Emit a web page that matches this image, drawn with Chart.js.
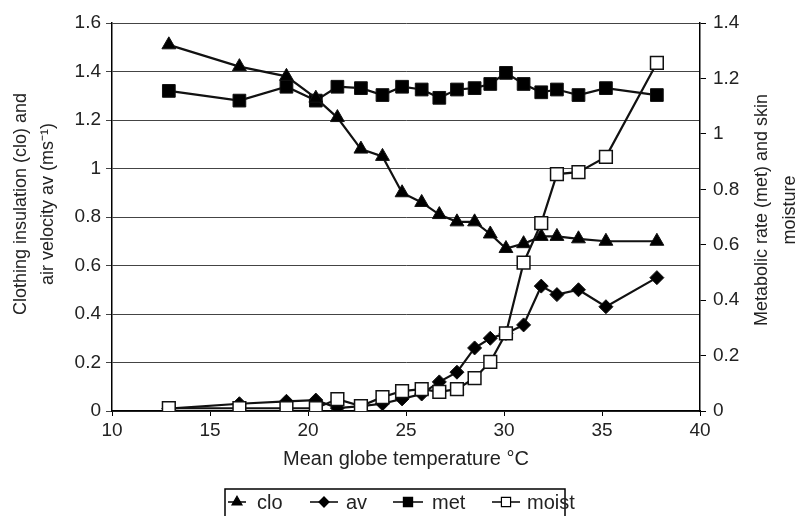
<!DOCTYPE html>
<html>
<head>
<meta charset="utf-8">
<script src="https://cdn.jsdelivr.net/npm/chart.js@4/dist/chart.umd.min.js"></script>
<style>
  html, body { margin: 0; padding: 0; background: #fff; }
  #wrap { width: 799px; height: 516px; position: relative; }
</style>
</head>
<body>
<div id="wrap"><canvas id="canvas"></canvas></div>
<script>
// mean globe temperature (°C)
var temps = [12.9, 16.5, 18.9, 20.4, 21.5, 22.7, 23.8, 24.8, 25.8, 26.7, 27.6, 28.5, 29.3, 30.1, 31.0, 31.9, 32.7, 33.8, 35.2, 37.8];
// left axis
var cloValues = [1.51, 1.42, 1.38, 1.29, 1.21, 1.08, 1.05, 0.90, 0.86, 0.81, 0.78, 0.78, 0.73, 0.67, 0.69, 0.72, 0.72, 0.71, 0.70, 0.70];
var avValues = [0.01, 0.03, 0.04, 0.045, 0.012, 0.02, 0.03, 0.05, 0.07, 0.12, 0.16, 0.26, 0.30, 0.32, 0.355, 0.515, 0.48, 0.50, 0.43, 0.55];
// right axis
var metValues = [1.155, 1.12, 1.17, 1.12, 1.17, 1.165, 1.14, 1.17, 1.16, 1.13, 1.16, 1.165, 1.18, 1.22, 1.18, 1.15, 1.16, 1.14, 1.165, 1.14];
var moistValues = [0.01, 0.01, 0.01, 0.01, 0.043, 0.018, 0.05, 0.072, 0.079, 0.069, 0.079, 0.119, 0.177, 0.28, 0.535, 0.678, 0.855, 0.862, 0.917, 1.256];

var xTicks = [10, 15, 20, 25, 30, 35, 40];
var leftTicks = [0, 0.2, 0.4, 0.6, 0.8, 1, 1.2, 1.4, 1.6];
var rightTicks = [0, 0.2, 0.4, 0.6, 0.8, 1, 1.2, 1.4];

var FONT = "'Liberation Sans', Arial, sans-serif";
var TEXT = "#222";

function pairs(ys) {
    return temps.map(function (t, i) { return { x: t, y: ys[i] }; });
}

var seriesStyle = [
    { label: "clo", style: "triangle", fill: "#000", radius: 8 },
    { label: "av", style: "rectRot", fill: "#000", radius: 7 },
    { label: "met", style: "rect", fill: "#000", radius: 9 },
    { label: "moist", style: "rect", fill: "#fff", radius: 9 }
];

// legend below the chart, lines drawn through the markers
var legendBox = {
    id: "legendBox",
    afterDraw: function (chart) {
        var ctx = chart.ctx;
        ctx.save();
        ctx.strokeStyle = "#000";
        ctx.lineWidth = 1.5;
        ctx.strokeRect(225, 489, 340, 40);
        var items = [
            { x0: 228, x1: 246, tx: 257 },
            { x0: 310, x1: 338, tx: 346 },
            { x0: 393, x1: 423, tx: 432 },
            { x0: 492, x1: 520, tx: 527 }
        ];
        var y = 502;
        items.forEach(function (it, i) {
            var s = seriesStyle[i];
            ctx.beginPath();
            ctx.strokeStyle = "#000";
            ctx.lineWidth = 1.5;
            ctx.moveTo(it.x0, y);
            ctx.lineTo(it.x1, y);
            ctx.stroke();
            ctx.fillStyle = s.fill;
            ctx.strokeStyle = "#000";
            ctx.lineWidth = 1.2;
            Chart.helpers.drawPoint(ctx, { pointStyle: s.style, radius: s.radius * 0.72, borderWidth: 1.2 }, (it.x0 + it.x1) / 2, y);
            ctx.fillStyle = TEXT;
            ctx.font = "20px " + FONT;
            ctx.textBaseline = "middle";
            ctx.textAlign = "left";
            ctx.fillText(s.label, it.tx, y + 1);
        });
        ctx.restore();
    }
};

// both y titles; the right one reads bottom to top like the left one
var axisTitles = {
    id: "axisTitles",
    afterDraw: function (chart) {
        var ctx = chart.ctx;
        ctx.save();
        ctx.fillStyle = TEXT;
        ctx.font = "18px " + FONT;
        ctx.textAlign = "center";
        ctx.textBaseline = "middle";
        ctx.translate(21, 204);
        ctx.rotate(-Math.PI / 2);
        ctx.fillText("Clothing insulation (clo) and", 0, 0);
        ctx.fillText("air velocity av (ms⁻¹)", 0, 27);
        ctx.restore();

        ctx.save();
        ctx.fillStyle = TEXT;
        ctx.font = "18px " + FONT;
        ctx.textAlign = "center";
        ctx.textBaseline = "middle";
        ctx.translate(762, 210);
        ctx.rotate(-Math.PI / 2);
        ctx.fillText("Metabolic rate (met) and skin", 0, 0);
        ctx.fillText("moisture", 0, 28);
        ctx.restore();
    }
};

var datasets = [
    { data: pairs(cloValues), yAxisID: "y", order: 1 },
    { data: pairs(avValues), yAxisID: "y", order: 1 },
    { data: pairs(metValues), yAxisID: "y1", order: 1 },
    { data: pairs(moistValues), yAxisID: "y1", order: 0 }
];
datasets.forEach(function (d, i) {
    var s = seriesStyle[i];
    d.label = s.label;
    d.borderColor = "#111";
    d.borderWidth = 2.2;
    d.backgroundColor = s.fill;
    d.pointStyle = s.style;
    d.pointRadius = s.radius;
    d.pointBackgroundColor = s.fill;
    d.pointBorderColor = "#111";
    d.pointBorderWidth = s.fill === "#fff" ? 1.5 : 1;
    d.tension = 0;
    d.fill = false;
});

var tickFont = { family: FONT, size: 19 };

var config = {
    type: "line",
    data: { datasets: datasets },
    options: {
        responsive: true,
        maintainAspectRatio: false,
        animation: false,
        layout: { padding: { top: 23, bottom: 41, left: 0, right: 0 } },
        plugins: { legend: { display: false }, tooltip: { enabled: false } },
        scales: {
            x: {
                type: "linear",
                min: 10,
                max: 40,
                afterBuildTicks: function (s) { s.ticks = xTicks.map(function (v) { return { value: v }; }); },
                afterFit: function (s) { s.height = 64; },
                grid: { drawOnChartArea: false, drawTicks: true, tickLength: 5, color: "#000" },
                border: { color: "#000", width: 1.5 },
                ticks: { color: TEXT, font: tickFont, padding: 3, maxRotation: 0 },
                title: { display: true, text: "Mean globe temperature °C", color: TEXT, font: { family: FONT, size: 20 }, padding: { top: 5 } }
            },
            y: {
                position: "left",
                min: 0,
                max: 1.6,
                afterBuildTicks: function (s) { s.ticks = leftTicks.map(function (v) { return { value: v }; }); },
                afterFit: function (s) { s.width = 112; },
                grid: { color: "#444", lineWidth: 1, tickLength: 6 },
                border: { color: "#000", width: 1.5 },
                ticks: { color: TEXT, font: tickFont, padding: 5, callback: function (v) { return String(+v.toFixed(1)); } }
            },
            y1: {
                position: "right",
                min: 0,
                max: 1.4,
                afterBuildTicks: function (s) { s.ticks = rightTicks.map(function (v) { return { value: v }; }); },
                afterFit: function (s) { s.width = 99; },
                grid: { drawOnChartArea: false, drawTicks: true, tickLength: 6, color: "#000" },
                border: { color: "#000", width: 1.5 },
                ticks: { color: TEXT, font: tickFont, padding: 7, callback: function (v) { return String(+v.toFixed(1)); } }
            }
        }
    },
    plugins: [legendBox, axisTitles]
};

window.onload = function () {
    var ctx = document.getElementById("canvas").getContext("2d");
    window.myLine = new Chart(ctx, config);
};
</script>
</body>
</html>
